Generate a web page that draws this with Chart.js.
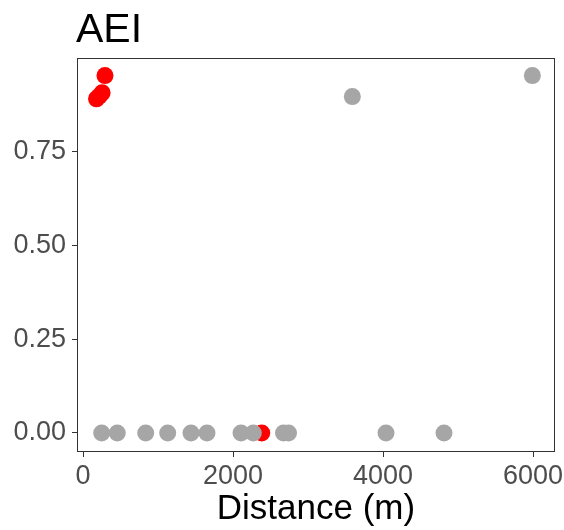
<!DOCTYPE html>
<html>
<head>
<meta charset="utf-8">
<script src="https://cdn.jsdelivr.net/npm/chart.js@4"></script>
<style>
  html, body { margin: 0; padding: 0; background: #fff; }
  #wrap { width: 564px; height: 530px; }
</style>
</head>
<body>
<div id="wrap"><canvas id="aeiChart" width="564" height="530"></canvas></div>
<script>
// DATA
const grayDist = [249, 457, 836, 1129, 1440, 1653, 2107, 2271, 2673, 2740, 4040, 4813, 3591, 5991];
const grayAEI  = [0, 0, 0, 0, 0, 0, 0, 0, 0, 0, 0, 0, 0.897, 0.953];
const redDist  = [180, 215, 255, 293, 2383];
const redAEI   = [0.891, 0.898, 0.907, 0.953, 0];
const xTicks = [0, 2000, 4000, 6000];
const yTicks = [0, 0.25, 0.5, 0.75];

const toPoints = (xs, ys) => xs.map((x, i) => ({ x, y: ys[i] }));

// panel border + title drawn at the chart area
const panelPlugin = {
    id: "panel",
    afterDatasetsDraw(chart) {
        const { ctx, chartArea: a } = chart;
        ctx.save();
        ctx.strokeStyle = "#333333";
        ctx.lineWidth = 1;
        ctx.strokeRect(a.left + 0.5, a.top + 0.5, a.right - a.left - 1, a.bottom - a.top - 1);
        ctx.restore();
    },
    afterDraw(chart) {
        const { ctx, chartArea: a } = chart;
        ctx.save();
        ctx.fillStyle = "#000";
        ctx.font = "41px 'Liberation Sans', Arial, sans-serif";
        ctx.textBaseline = "alphabetic";
        ctx.textAlign = "left";
        ctx.fillText("AEI", a.left - 1, 42);
        ctx.restore();
    }
};

new Chart(document.getElementById("aeiChart"), {
    type: "scatter",
    data: {
        datasets: [
            {
                label: "other",
                data: toPoints(grayDist, grayAEI),
                backgroundColor: "#A6A6A6",
                borderWidth: 0,
                pointRadius: 8.5,
                pointHoverRadius: 8.5
            },
            {
                label: "AEI",
                data: toPoints(redDist, redAEI),
                backgroundColor: "#FF0000",
                borderWidth: 0,
                pointRadius: 8.5,
                pointHoverRadius: 8.5
            }
        ]
    },
    options: {
        responsive: false,
        animation: false,
        layout: { padding: { top: 58, right: 9, left: 0, bottom: 0 } },
        plugins: {
            legend: { display: false },
            tooltip: { enabled: false }
        },
        scales: {
            x: {
                type: "linear",
                min: -80,
                max: 6293,
                afterBuildTicks: s => { s.ticks = xTicks.map(v => ({ value: v })); },
                afterFit: s => { s.height = 78; s.paddingLeft = 0; s.paddingRight = 0; },
                grid: { drawOnChartArea: false, drawTicks: true, tickLength: 5, tickColor: "#333333" },
                border: { display: false },
                ticks: {
                    color: "#4D4D4D",
                    font: { family: "'Liberation Sans', Arial, sans-serif", size: 27 },
                    padding: 3,
                    maxRotation: 0,
                    callback: v => String(v)
                },
                title: {
                    display: true,
                    text: "Distance (m)",
                    color: "#000",
                    font: { family: "'Liberation Sans', Arial, sans-serif", size: 35 },
                    padding: { top: 0, bottom: 0 }
                }
            },
            y: {
                type: "linear",
                min: -0.0507,
                max: 1.0,
                afterBuildTicks: s => { s.ticks = yTicks.map(v => ({ value: v })); },
                afterFit: s => { s.width = 77; s.paddingTop = 0; s.paddingBottom = 0; },
                grid: { drawOnChartArea: false, drawTicks: true, tickLength: 5, tickColor: "#333333" },
                border: { display: false },
                ticks: {
                    color: "#4D4D4D",
                    font: { family: "'Liberation Sans', Arial, sans-serif", size: 27 },
                    padding: 6,
                    callback: v => v.toFixed(2)
                }
            }
        }
    },
    plugins: [panelPlugin]
});
</script>
</body>
</html>
